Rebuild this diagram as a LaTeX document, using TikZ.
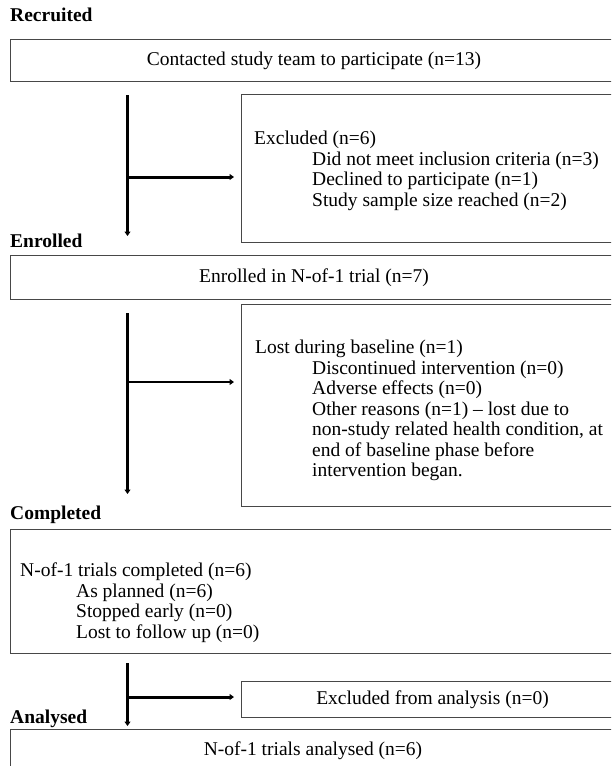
\documentclass[tikz,border=0pt]{standalone}
\usepackage{fontspec}
\setmainfont{Liberation Serif}
\usetikzlibrary{arrows.meta}
\begin{document}
\begin{tikzpicture}[x=1pt,y=-1pt,
  every node/.style={font=\fontsize{19.5}{20.5}\selectfont},
  box/.style={draw=black!72,line width=1pt,rectangle,inner sep=0pt,anchor=north west},
  head/.style={font=\fontsize{19.5}{20.5}\selectfont\bfseries,anchor=base west,inner sep=0pt},
  txt/.style={anchor=west,inner sep=0pt,align=left},
  flowarr/.style={line width=3pt,-{Triangle[length=4.5pt,width=6pt]}},
]
\useasboundingbox (0,0) rectangle (611,766);
\clip (0,0) rectangle (611,766);
% Recruited
\node[head] (hrec) at (10,21) {Recruited};
\node[box,minimum width=607,minimum height=42] (b1) at (10,39) {Contacted study team to participate (n=13)};
\node[box,minimum width=385,minimum height=148] (x1) at (241,94) {};
\node[txt] (x1t) at (254,171) {Excluded (n=6)\\
\hspace*{58pt}Did not meet inclusion criteria (n=3)\\
\hspace*{58pt}Declined to participate (n=1)\\
\hspace*{58pt}Study sample size reached (n=2)};
\coordinate (v1s) at (127.5,95);
\coordinate (v1e) at (127.5,236);
\coordinate (v1m) at (127.5,177);
\draw[flowarr] (v1s) -- (v1e);
\draw[flowarr,shorten >=7pt] (v1m) -- (v1m -| x1.west);
% Enrolled
\node[head] (henr) at (10,247) {Enrolled};
\node[box,minimum width=607,minimum height=44] (b2) at (10,255) {Enrolled in N-of-1 trial (n=7)};
\node[box,minimum width=385,minimum height=202] (x2) at (241,304) {};
\node[txt] (x2t) at (255,410.5) {Lost during baseline (n=1)\\
\hspace*{57pt}Discontinued intervention (n=0)\\
\hspace*{57pt}Adverse effects (n=0)\\
\hspace*{57pt}Other reasons (n=1) -- lost due to\\
\hspace*{57pt}non-study related health condition, at\\
\hspace*{57pt}end of baseline phase before\\
\hspace*{57pt}intervention began.};
\coordinate (v2s) at (127.5,313);
\coordinate (v2e) at (127.5,494);
\coordinate (v2m) at (127.5,382);
\draw[flowarr] (v2s) -- (v2e);
\draw[flowarr,line width=2pt,shorten >=7pt] (v2m) -- (v2m -| x2.west);
% Completed
\node[head] (hcom) at (10,519) {Completed};
\node[box,minimum width=607,minimum height=124] (b3) at (10,529) {};
\node[txt] (b3t) at (20,602.5) {N-of-1 trials completed (n=6)\\
\hspace*{56pt}As planned (n=6)\\
\hspace*{56pt}Stopped early (n=0)\\
\hspace*{56pt}Lost to follow up (n=0)};
\node[box,minimum width=382,minimum height=36] (x3) at (241,681) {Excluded from analysis (n=0)};
\coordinate (v3s) at (127.5,663);
\coordinate (v3e) at (127.5,726);
\coordinate (v3m) at (127.5,697);
\draw[flowarr] (v3s) -- (v3e);
\draw[flowarr,shorten >=7pt] (v3m) -- (v3m -| x3.west);
% Analysed
\node[head] (hana) at (10,723) {Analysed};
\node[box,minimum width=607,minimum height=60] (b4) at (10,729) {};
\node[anchor=base,inner sep=0pt] (b4t) at (313,755) {N-of-1 trials analysed (n=6)};
\end{tikzpicture}
\end{document}
